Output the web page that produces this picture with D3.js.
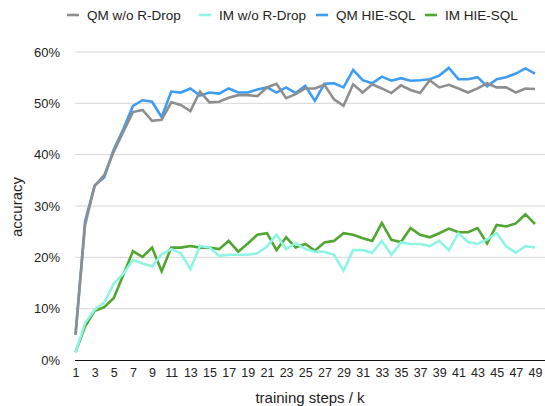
<!DOCTYPE html>
<html><head><meta charset="utf-8">
<script src="https://cdn.jsdelivr.net/npm/d3@7"></script>
<style>html,body{margin:0;padding:0;background:#fff}svg{display:block}</style>
</head><body>
<svg id="c" width="545" height="406"></svg>
<script>
const steps = d3.range(1, 50);
const xTickLabels = d3.range(1, 50, 2);
const yTicks = [0, 10, 20, 30, 40, 50, 60];
const seriesNames = ["QM w/o R-Drop", "IM w/o R-Drop", "QM HIE-SQL", "IM HIE-SQL"];
const seriesColors = ["#8e8e8e", "#8ef5e3", "#3d9cf3", "#4fa72f"];

const qmNoRDrop = [4.9,26.3,33.9,36.0,40.6,44.5,48.3,48.7,46.6,46.8,50.2,49.7,48.5,52.3,50.2,50.3,51.1,51.6,51.6,51.4,53.1,53.8,51.0,51.8,52.9,52.9,53.6,50.8,49.5,53.7,52.1,53.7,52.9,52.0,53.5,52.6,52.0,54.5,53.1,53.6,52.9,52.1,52.9,53.9,53.1,53.1,52.1,52.9,52.8];
const imNoRDrop = [1.5,7.2,9.8,11.2,14.9,16.8,19.5,18.8,18.2,20.6,21.6,20.8,17.7,22.2,21.9,20.3,20.5,20.5,20.5,20.8,22.1,24.4,21.6,22.8,21.6,21.1,21.1,20.5,17.4,21.4,21.4,20.9,23.2,20.5,22.9,22.6,22.6,22.2,23.2,21.4,24.7,23.0,22.6,23.5,24.7,22.1,20.9,22.2,21.9];
const qmHie = [4.9,27.0,34.0,35.6,41.0,45.0,49.5,50.6,50.3,47.3,52.3,52.1,52.9,51.5,52.1,51.9,52.9,52.1,52.1,52.7,53.1,52.1,53.1,52.0,53.4,50.5,53.8,53.9,53.1,56.5,54.5,53.9,55.2,54.4,54.9,54.4,54.5,54.7,55.4,56.9,54.7,54.7,55.1,53.3,54.7,55.1,55.8,56.8,55.8];
const imHie = [1.5,6.5,9.6,10.3,12.1,16.6,21.2,20.1,21.9,17.3,21.9,21.9,22.2,21.9,21.9,21.6,23.2,21.1,22.7,24.4,24.7,21.4,23.9,21.9,22.6,21.3,22.9,23.2,24.7,24.4,23.7,23.2,26.7,23.4,23.0,25.7,24.4,23.9,24.7,25.6,24.9,24.9,25.7,22.7,26.3,26.0,26.6,28.4,26.5];

const seriesData = [qmNoRDrop, imNoRDrop, qmHie, imHie];
const drawOrder = [2, 3, 0, 1];

const svg = d3.select("#c");
const font = "'Liberation Sans', Arial, Helvetica, sans-serif";
const x = d3.scaleLinear().domain([1, 49]).range([75.5, 535]);
const y = d3.scaleLinear().domain([0, 60]).range([360, 52]);

// gridlines
svg.append("g").selectAll("line").data(yTicks.filter(d => d > 0)).join("line")
  .attr("x1", 75).attr("x2", 545)
  .attr("y1", d => y(d)).attr("y2", d => y(d))
  .attr("stroke", "#d6d6d6").attr("stroke-width", 1);

// y labels
svg.append("g").selectAll("text").data(yTicks).join("text")
  .attr("x", 60).attr("y", d => y(d)).attr("dy", "0.36em")
  .attr("text-anchor", "end").attr("font-family", font).attr("font-size", 13)
  .attr("fill", "#222").text(d => d + "%");

// x axis
const xAxis = d3.axisBottom(x).tickValues(xTickLabels).tickSize(0).tickPadding(8).tickFormat(d3.format("d"));
const gx = svg.append("g").attr("transform", "translate(0,360)").call(xAxis);
gx.select(".domain").remove();
gx.selectAll("text").attr("font-family", font).attr("font-size", 12.5).attr("fill", "#222");
svg.append("line").attr("x1", 75).attr("x2", 545).attr("y1", 360.5).attr("y2", 360.5)
  .attr("stroke", "#111").attr("stroke-width", 1.2);

// lines
const line = d3.line().x((d, i) => x(steps[i])).y(d => y(d));
drawOrder.forEach(k => {
  svg.append("path").datum(seriesData[k]).attr("d", line)
    .attr("fill", "none").attr("stroke", seriesColors[k]).attr("stroke-width", 2.6)
    .attr("stroke-linejoin", "miter").attr("stroke-linecap", "butt");
});

// axis titles
svg.append("text").attr("x", 310).attr("y", 403).attr("text-anchor", "middle")
  .attr("font-family", font).attr("font-size", 15).attr("fill", "#222").text("training steps / k");
svg.append("text").attr("transform", "translate(22,207) rotate(-90)").attr("text-anchor", "middle")
  .attr("font-family", font).attr("font-size", 15).attr("fill", "#222").text("accuracy");

// legend
const legendX = [67, 199, 316, 425];
const lg = svg.append("g");
seriesNames.forEach((n, i) => {
  lg.append("line").attr("x1", legendX[i]).attr("x2", legendX[i] + 12)
    .attr("y1", 15).attr("y2", 15).attr("stroke", seriesColors[i]).attr("stroke-width", 2.6);
  lg.append("text").attr("x", legendX[i] + 20).attr("y", 15).attr("dy", "0.36em")
    .attr("font-family", font).attr("font-size", 13.5).attr("fill", "#222").text(n);
});
</script>
</body></html>
